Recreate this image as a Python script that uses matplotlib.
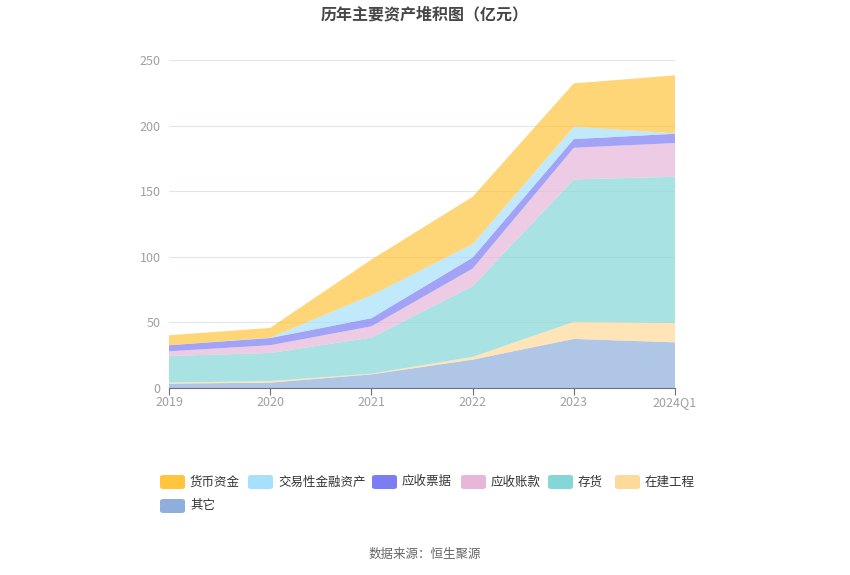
import matplotlib
matplotlib.use("Agg")
import matplotlib.pyplot as plt
from matplotlib.patches import FancyBboxPatch
import numpy as np

plt.rcParams['font.family'] = ['Noto Sans CJK SC', 'DejaVu Sans']

categories = ["2019", "2020", "2021", "2022", "2023", "2024Q1"]
series_names = ["其它", "在建工程", "存货", "应收账款", "应收票据", "交易性金融资产", "货币资金"]
other = [3.3, 4.1, 10.4, 21.6, 37.4, 34.8]
construction = [0.8, 1.2, 0.5, 2.1, 13.0, 14.8]
inventory = [20.3, 21.4, 27.5, 53.9, 108.6, 111.4]
receivables = [3.6, 5.9, 8.6, 13.4, 24.1, 25.7]
notes_receivable = [4.6, 5.5, 6.2, 8.4, 6.6, 7.1]
trading_assets = [0.0, 0.3, 17.5, 10.2, 9.4, 0.3]
cash = [7.6, 7.4, 27.2, 36.1, 33.1, 44.2]

series = [other, construction, inventory, receivables, notes_receivable, trading_assets, cash]
colors = ["#8FAEDC", "#FFD99A", "#85D7D7", "#E8B6D9", "#7B7DF5", "#A6E0FC", "#FFC53D"]

fig = plt.figure(figsize=(8.5, 5.75), dpi=100)
ax = fig.add_axes([169/850, 1-388/575, (675-169)/850, (388-60)/575])

x = np.arange(len(categories))
ax.stackplot(x, *series, colors=colors, alpha=0.7, linewidth=0)

ax.set_xlim(0, len(categories)-1)
ax.set_ylim(0, 250)
ax.set_yticks([0, 50, 100, 150, 200, 250])
ax.set_xticks(x)
ax.set_xticklabels([])
for xi, lab in zip(x, categories):
    ax.annotate(lab, xy=(xi, 0), xycoords=('data', 'axes fraction'),
                xytext=(0, -18), textcoords='offset pixels',
                ha='center', va='baseline', fontsize=9, color='#A0A0A0',
                annotation_clip=False)
ax.grid(axis='y', color='#E0E6F1', linewidth=0.8)
ax.set_axisbelow(True)
for s in ['top', 'right', 'left']:
    ax.spines[s].set_visible(False)
ax.spines['bottom'].set_color('#6E7079')
ax.tick_params(axis='y', length=0, labelsize=9, labelcolor='#A0A0A0', pad=6)
ax.tick_params(axis='x', length=5, color='#6E7079')

fig.text(0.5, 1-14/575, "历年主要资产堆积图（亿元）", ha='center', va='center',
         fontsize=11.5, fontweight='bold', color='#464646')

# legend (manual layout)
legend_order = [6, 5, 4, 3, 2, 1, 0]
positions = [(160, 482), (248, 482), (372, 482), (461, 482), (548, 482), (615, 482), (160, 506)]
for idx, (px, py) in zip(legend_order, positions):
    rect = FancyBboxPatch((px/850, 1-(py+7)/575), 25/850, 14/575,
                          boxstyle="round,pad=0,rounding_size=0.004",
                          transform=fig.transFigure, facecolor=colors[idx],
                          edgecolor='none')
    fig.patches.append(rect)
    fig.text((px+30)/850, 1-py/575, series_names[idx], ha='left', va='center',
             fontsize=9, color='#333333')

fig.text(0.5, 1-554/575, "数据来源：恒生聚源", ha='center', va='center',
         fontsize=9, color='#666666')

fig.savefig("out.png", dpi=100)
